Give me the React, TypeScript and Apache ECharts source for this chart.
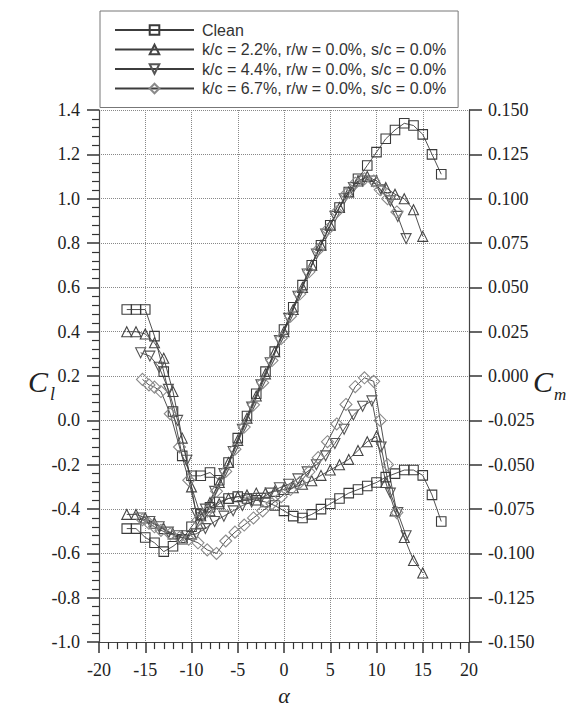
import React, { useEffect, useRef } from "react";
import * as echarts from "echarts";

// ---- Data ----
const seriesNames = [
  "Clean",
  "k/c = 2.2%, r/w = 0.0%, s/c = 0.0%",
  "k/c = 4.4%, r/w = 0.0%, s/c = 0.0%",
  "k/c = 6.7%, r/w = 0.0%, s/c = 0.0%",
];

// Clean
const alphaClean = [-17, -16, -15, -14, -13, -12, -11, -10, -9, -8, -7, -6, -5, -4, -3, -2, -1, 0, 1, 2, 3, 4, 5, 6, 7, 8, 9, 10, 11, 12, 13, 14, 15, 16, 17];
const clClean = [0.5, 0.5, 0.5, 0.38, 0.22, 0.04, -0.16, -0.25, -0.25, -0.235, -0.27, -0.19, -0.08, 0.02, 0.12, 0.22, 0.31, 0.41, 0.51, 0.61, 0.7, 0.79, 0.88, 0.96, 1.03, 1.09, 1.15, 1.21, 1.27, 1.31, 1.34, 1.33, 1.29, 1.2, 1.11];
const cmClean = [-0.086, -0.086, -0.091, -0.094, -0.099, -0.096, -0.092, -0.085, -0.078, -0.074, -0.071, -0.069, -0.068, -0.069, -0.07, -0.071, -0.073, -0.076, -0.079, -0.08, -0.078, -0.075, -0.072, -0.069, -0.066, -0.064, -0.062, -0.06, -0.057, -0.055, -0.053, -0.053, -0.056, -0.067, -0.082];

// k/c = 2.2%
const alpha22 = [-17, -16, -15, -14, -13, -12, -11, -10, -9, -8, -7, -6, -5, -4, -3, -2, -1, 0, 1, 2, 3, 4, 5, 6, 7, 8, 9, 10, 11, 12, 13, 14, 15];
const cl22 = [0.4, 0.4, 0.39, 0.35, 0.28, 0.13, -0.08, -0.3, -0.43, -0.37, -0.28, -0.19, -0.09, 0.01, 0.11, 0.21, 0.31, 0.4, 0.5, 0.6, 0.7, 0.79, 0.88, 0.96, 1.03, 1.08, 1.1, 1.08, 1.05, 1.02, 1.0, 0.95, 0.83];
const cm22 = [-0.078, -0.078, -0.08, -0.083, -0.086, -0.089, -0.091, -0.089, -0.083, -0.076, -0.072, -0.069, -0.068, -0.067, -0.066, -0.066, -0.065, -0.064, -0.063, -0.061, -0.059, -0.056, -0.053, -0.05, -0.047, -0.042, -0.037, -0.034, -0.06, -0.076, -0.091, -0.104, -0.111];

// k/c = 4.4%
const alpha44 = [-15.5, -14.5, -13.5, -12.5, -11.5, -10.5, -9.5, -8.5, -7.5, -6.5, -5.5, -4.5, -3.5, -2.5, -1.5, -0.5, 0.5, 1.5, 2.5, 3.5, 4.5, 5.5, 6.5, 7.5, 8.5, 9.5, 10.5, 11.5, 12.3, 13.2];
const cl44 = [0.305, 0.29, 0.24, 0.14, 0.0, -0.18, -0.42, -0.4, -0.32, -0.24, -0.14, -0.04, 0.06, 0.16, 0.26, 0.36, 0.46, 0.56, 0.66, 0.75, 0.84, 0.92, 1.0, 1.05, 1.08, 1.08, 1.04, 0.99, 0.92, 0.82];
const cm44 = [-0.08, -0.082, -0.085, -0.088, -0.09, -0.09, -0.089, -0.086, -0.082, -0.079, -0.076, -0.073, -0.071, -0.069, -0.066, -0.063, -0.061, -0.058, -0.054, -0.05, -0.045, -0.038, -0.03, -0.022, -0.017, -0.014, -0.04, -0.066, -0.077, -0.09];

// k/c = 6.7%
const alpha67 = [-15.3, -14.6, -14, -13.3, -12.3, -11.3, -10.3, -9.3, -8.3, -7.3, -6.3, -5.3, -4.3, -3.3, -2.3, -1.3, -0.3, 0.7, 1.7, 2.7, 3.7, 4.7, 5.7, 6.7, 7.7, 8.7, 9.7, 10.4, 11.2, 12.2];
const cl67 = [0.185, 0.16, 0.15, 0.13, 0.03, -0.12, -0.27, -0.45, -0.41, -0.32, -0.23, -0.13, -0.03, 0.07, 0.17, 0.27, 0.37, 0.47, 0.57, 0.67, 0.77, 0.86, 0.94, 1.02, 1.07, 1.09, 1.08, 1.04, 1.0, 0.94];
const cm67 = [-0.081, -0.083, -0.085, -0.087, -0.089, -0.091, -0.092, -0.094, -0.098, -0.1, -0.093, -0.088, -0.084, -0.08, -0.076, -0.072, -0.068, -0.064, -0.06, -0.054, -0.046, -0.037, -0.027, -0.016, -0.006, -0.001, -0.003, -0.025, -0.05, -0.077];

// Axis ranges
const xRange = [-20, 20];
const clRange = [-1.0, 1.4];
const cmRange = [-0.15, 0.15];

const pairs = (a: number[], v: number[]) => a.map((x, i) => [x, v[i]]);

const runs = [
  { name: seriesNames[0], a: alphaClean, cl: clClean, cm: cmClean, symbol: "rect", size: 9.5, rotate: 0, color: "#3a3a3a" },
  { name: seriesNames[1], a: alpha22, cl: cl22, cm: cm22, symbol: "triangle", size: 10, rotate: 0, color: "#444" },
  { name: seriesNames[2], a: alpha44, cl: cl44, cm: cm44, symbol: "triangle", size: 10, rotate: 180, color: "#555" },
  { name: seriesNames[3], a: alpha67, cl: cl67, cm: cm67, symbol: "diamond", size: 12, rotate: 0, color: "#8a8a8a" },
];

const serif = "Times New Roman";
const sans = "Liberation Sans";

export default function App() {
  const ref = useRef<HTMLDivElement>(null);
  useEffect(() => {
    document.body.style.margin = "0";
    if (!ref.current) return;
    const chart = echarts.init(ref.current, undefined, { renderer: "svg" });

    const mkSeries = (r: any, which: "cl" | "cm") => ({
      type: "line",
      name: r.name,
      yAxisIndex: which === "cl" ? 0 : 1,
      data: pairs(r.a, which === "cl" ? r.cl : r.cm),
      symbol: r.symbol,
      symbolSize: r.size,
      symbolRotate: r.rotate,
      showAllSymbol: true,
      lineStyle: { color: "#3c3c3c", width: 0.9 },
      itemStyle: { color: "rgba(255,255,255,0)", borderColor: r.color, borderWidth: 1.1 },
      emphasis: { disabled: true },
    });

    const series: any[] = [];
    runs.forEach((r) => {
      series.push(mkSeries(r, "cl"));
      series.push(mkSeries(r, "cm"));
    });

    const clean = (v: number) => (Math.abs(v) < 1e-9 ? 0 : v);
    const fmt = (d: number) => (v: number) => clean(v).toFixed(d);
    const tickLabel = { fontFamily: serif, fontSize: 18, color: "#222" };

    chart.setOption({
      animation: false,
      backgroundColor: "#fff",
      textStyle: { fontFamily: serif },
      grid: { left: 99, right: 100, top: 110, bottom: 64 },
      legend: {
        data: seriesNames,
        orient: "vertical",
        left: 100,
        top: 11,
        padding: [11, 12, 11, 14],
        itemWidth: 79,
        itemHeight: 12,
        itemGap: 3.5,
        backgroundColor: "#fff",
        borderColor: "#777",
        borderWidth: 1,
        selectedMode: false,
        textStyle: { fontFamily: sans, fontSize: 16, color: "#333", padding: [0, 0, 0, 3] },
      },
      xAxis: {
        type: "value",
        min: xRange[0],
        max: xRange[1],
        interval: 5,
        axisLine: { show: true, onZero: false, lineStyle: { color: "#444", width: 1.2 } },
        axisTick: { show: true, length: 11, lineStyle: { color: "#333", width: 1.5 } },
        minorTick: { show: true, splitNumber: 5, length: 7, lineStyle: { color: "#333", width: 1.2 } },
        axisLabel: { margin: 19, formatter: fmt(0), ...tickLabel },
        splitLine: { show: true, lineStyle: { type: "dotted", color: "#888", width: 1 } },
        name: "α",
        nameLocation: "middle",
        nameGap: 29,
        nameTextStyle: { fontFamily: serif, fontStyle: "italic", fontSize: 22, color: "#222" },
      },
      yAxis: [
        {
          type: "value",
          position: "left",
          min: clRange[0],
          max: clRange[1],
          interval: 0.2,
          axisLine: { show: true, onZero: false, lineStyle: { color: "#444", width: 1.2 } },
          axisTick: { show: true, length: 12, lineStyle: { color: "#333", width: 1.5 } },
          minorTick: { show: true, splitNumber: 5, length: 7, lineStyle: { color: "#333", width: 1.2 } },
          axisLabel: { margin: 19, formatter: fmt(1), ...tickLabel },
          splitLine: { show: true, lineStyle: { type: "dotted", color: "#888", width: 1 } },
        },
        {
          type: "value",
          position: "right",
          min: cmRange[0],
          max: cmRange[1],
          interval: 0.025,
          axisLine: { show: true, onZero: false, lineStyle: { color: "#444", width: 1.2 } },
          axisTick: { show: true, length: 13, lineStyle: { color: "#333", width: 1.5 } },
          axisLabel: { margin: 19, formatter: fmt(3), ...tickLabel },
          splitLine: { show: false },
        },
      ],
      graphic: [
        { type: "text", x: 28, y: 381, style: { text: "C", font: `italic 30px ${serif}`, fill: "#222", align: "left", verticalAlign: "middle" } },
        { type: "text", x: 50, y: 394, style: { text: "l", font: `italic 18px ${serif}`, fill: "#222", align: "left", verticalAlign: "middle" } },
        { type: "text", x: 533, y: 381, style: { text: "C", font: `italic 30px ${serif}`, fill: "#222", align: "left", verticalAlign: "middle" } },
        { type: "text", x: 554, y: 394, style: { text: "m", font: `italic 17px ${serif}`, fill: "#222", align: "left", verticalAlign: "middle" } },
      ],
      series,
    });

    return () => chart.dispose();
  }, []);

  return <div ref={ref} style={{ position: "fixed", left: 0, top: 0, width: 569, height: 711 }} />;
}
